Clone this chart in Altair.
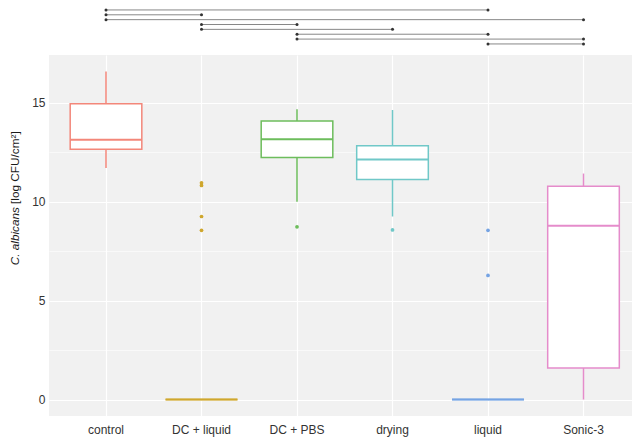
import altair as alt
import pandas as pd

# ---- data ----
categories = ["control", "DC + liquid", "DC + PBS", "drying", "liquid", "Sonic-3"]
colors = ["#F3877A", "#CFA72E", "#6DBD5C", "#70C8C8", "#75A3E3", "#E58CCB"]

whisker_low = [11.70, 0.0, 10.00, 9.25, 0.0, 0.0]
box_q1 = [12.65, 0.0, 12.23, 11.12, 0.0, 1.60]
box_median = [13.13, 0.0, 13.15, 12.13, 0.0, 8.78]
box_q3 = [14.95, 0.0, 14.07, 12.83, 0.0, 10.78]
whisker_high = [16.58, 0.0, 14.67, 14.63, 0.0, 11.42]

outlier_group = ["DC + liquid", "DC + liquid", "DC + liquid", "DC + liquid",
                 "DC + PBS", "drying", "liquid", "liquid"]
outlier_value = [10.95, 10.82, 9.25, 8.55, 8.73, 8.57, 8.55, 6.27]

bracket_from = ["control", "control", "control", "DC + liquid", "DC + liquid",
                "DC + PBS", "DC + PBS", "liquid"]
bracket_to = ["liquid", "DC + liquid", "Sonic-3", "DC + PBS", "drying",
              "liquid", "Sonic-3", "Sonic-3"]
bracket_row = [1, 2, 3, 4, 5, 6, 7, 8]

y_ticks = [0, 2.5, 5, 7.5, 10, 12.5, 15]
title_italic = "C. albicans"
title_rest = "[log CFU/cm²]"

# ---- tables ----
box_df = pd.DataFrame({
    "group": categories, "lo": whisker_low, "q1": box_q1,
    "median": box_median, "q3": box_q3, "hi": whisker_high,
})
out_df = pd.DataFrame({"group": outlier_group, "value": outlier_value})
br_df = pd.DataFrame({"from": bracket_from, "to": bracket_to, "row": bracket_row})
title_df = pd.DataFrame({"a": [title_italic], "b": [title_rest]})

W = 583
H = 361
FONT = "Liberation Sans"

xscale = alt.Scale(domain=categories, paddingInner=0, paddingOuter=0.0524, align=0.925)
yscale = alt.Scale(domain=[-0.83, 17.41], nice=False, zero=False)
color = alt.Color("group:N", scale=alt.Scale(domain=categories, range=colors), legend=None)

x_axis = alt.Axis(title=None, grid=True, gridColor="white", gridWidth=1.2,
                  bandPosition=0.5, domain=False, ticks=False, tickSize=0,
                  labelPadding=8, labelAngle=0, labelFontSize=12,
                  labelColor="#333333", labelFont=FONT)
y_axis = alt.Axis(title=None, values=y_ticks,
                  labelExpr="datum.value % 5 == 0 ? datum.label : ''",
                  grid=True, gridColor="white",
                  gridWidth={"condition": {"test": "datum.value % 5 === 0", "value": 1.2}, "value": 0.6},
                  domain=False, ticks=False, tickSize=0, labelPadding=4,
                  labelFontSize=12, labelColor="#333333", labelFont=FONT)

whisk = alt.Chart(box_df).mark_rule(strokeWidth=1.5).encode(
    x=alt.X("group:N", scale=xscale, sort=categories, bandPosition=0.5, axis=x_axis),
    y=alt.Y("lo:Q", scale=yscale, axis=y_axis),
    y2="hi:Q",
    color=color,
)
box = alt.Chart(box_df).mark_bar(width={"band": 0.75}, fill="white", strokeWidth=1.5).encode(
    x=alt.X("group:N", scale=xscale, sort=categories),
    y=alt.Y("q1:Q", scale=yscale),
    y2="q3:Q",
    stroke=alt.Stroke("group:N", scale=alt.Scale(domain=categories, range=colors), legend=None),
)
med = alt.Chart(box_df).mark_tick(size=72, thickness=2, opacity=1).encode(
    x=alt.X("group:N", scale=xscale, sort=categories),
    y=alt.Y("median:Q", scale=yscale),
    color=color,
)
outl = alt.Chart(out_df).mark_circle(size=14, opacity=1).encode(
    x=alt.X("group:N", scale=xscale, sort=categories, bandPosition=0.5),
    y=alt.Y("value:Q", scale=yscale),
    color=color,
)
t1 = alt.Chart(title_df).mark_text(angle=270, align="right", baseline="middle",
                                   fontSize=11.8, fontStyle="italic", font=FONT,
                                   color="#1a1a1a").encode(
    text="a:N", x=alt.value(-34), y=alt.value(152))
t2 = alt.Chart(title_df).mark_text(angle=270, align="left", baseline="middle",
                                   fontSize=11.8, font=FONT, color="#1a1a1a").encode(
    text="b:N", x=alt.value(-34), y=alt.value(149))

bottom = alt.layer(whisk, box, med, outl, t1, t2).properties(
    width=W, height=H, view=alt.ViewBackground(fill="#F1F1F1", strokeWidth=0))

# top strip with comparison brackets (rows 1..8 spaced ~4.9 px)
row_scale = alt.Scale(domain=[0.6, 9.66], reverse=True, nice=False, zero=False)
rules = alt.Chart(br_df).mark_rule(color="#7a7a7a", strokeWidth=0.9).encode(
    x=alt.X("from:N", scale=xscale, bandPosition=0.5, axis=None),
    x2=alt.X2("to:N", bandPosition=0.5),
    y=alt.Y("row:Q", scale=row_scale, axis=None),
)
ends = alt.Chart(br_df).transform_fold(["from", "to"], as_=["end", "cat"]).mark_circle(
    size=9, color="#333333", opacity=1).encode(
    x=alt.X("cat:N", scale=xscale, bandPosition=0.5, axis=None),
    y=alt.Y("row:Q", scale=row_scale, axis=None),
)
top = alt.layer(rules, ends).properties(width=W, height=44,
                                         view=alt.ViewBackground(strokeWidth=0))

chart = alt.vconcat(top, bottom, spacing=3).properties(
    padding={"left": 2, "top": 0, "right": 0, "bottom": 3}).configure(
    font=FONT).configure_view(strokeWidth=0)

chart.save("out.html", embed_options={"renderer": "svg", "actions": False})
